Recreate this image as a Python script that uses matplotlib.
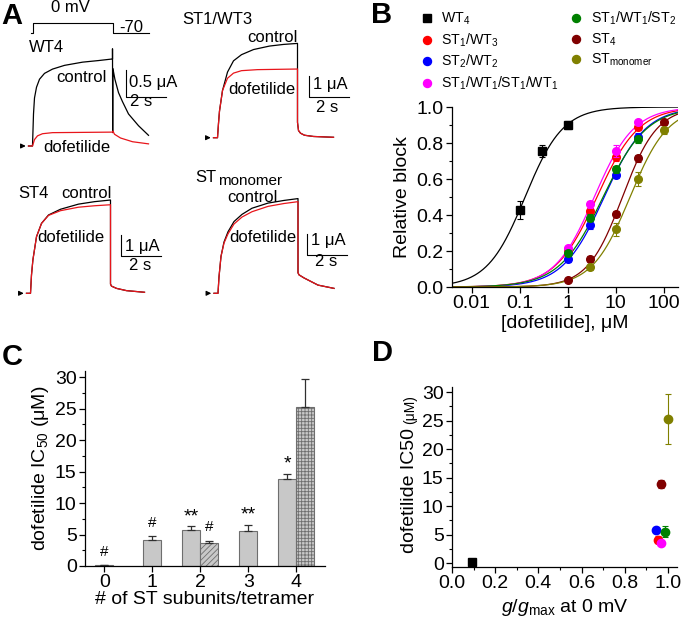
import numpy as np
import matplotlib
matplotlib.use("Agg")
import matplotlib.pyplot as plt
from matplotlib.ticker import MultipleLocator, LogLocator, NullFormatter

plt.rcParams['font.family'] = ['Liberation Sans', 'DejaVu Sans']
plt.rcParams['mathtext.fontset'] = 'custom'
plt.rcParams['mathtext.rm'] = 'Liberation Sans'
plt.rcParams['mathtext.it'] = 'Liberation Sans:italic'
plt.rcParams['mathtext.bf'] = 'Liberation Sans:bold'
plt.rcParams['hatch.linewidth'] = 0.6

# ---------------- data ----------------
# Panel A: current traces (time in s, current in uA)
t_prot = [-0.1, 0.03, 0.03, 4.0, 4.0, 5.8]
v_prot = [-70, -70, 0, 0, -70, -70]

t_wt4_ctrl = [-0.2, 0, 0.05, 0.1, 0.2, 0.35, 0.6, 1.0, 1.6, 2.5, 3.3, 4.0, 4.0, 4.01, 4.02,
              4.12, 4.3, 4.5, 4.8, 5.3, 5.8]
i_wt4_ctrl = [0, 0, 0.6, 0.9, 1.1, 1.25, 1.36, 1.44, 1.51, 1.57, 1.6, 1.63, 1.82, 0.25, 1.45,
              1.25, 1.0, 0.83, 0.6, 0.38, 0.2]
t_wt4_dof = [-0.2, 0, 0.1, 0.25, 0.5, 1.0, 4.0, 4.02, 4.1, 4.4, 5.0, 5.8]
i_wt4_dof = [0, 0, 0.12, 0.19, 0.23, 0.25, 0.26, 0.28, 0.22, 0.15, 0.08, 0.04]

t_st1_ctrl = [-0.2, 0, 0.05, 0.1, 0.25, 0.5, 0.8, 1.2, 1.8, 2.6, 3.3, 4.0, 4.0, 4.05, 4.15, 4.35, 4.8, 5.8]
i_st1_ctrl = [0, 0, 0.7, 1.3, 2.3, 3.2, 3.75, 4.05, 4.3, 4.47, 4.55, 4.6, 0.75, 0.35, 0.22, 0.12, 0.06, 0.02]
t_st1_dof = [-0.2, 0, 0.05, 0.1, 0.25, 0.5, 0.8, 1.2, 2.0, 4.0, 4.0, 4.05, 4.15, 4.35, 4.8, 5.8]
i_st1_dof = [0, 0, 0.7, 1.3, 2.3, 2.9, 3.15, 3.27, 3.32, 3.35, 0.75, 0.35, 0.22, 0.12, 0.06, 0.02]

t_st4 = [-0.2, 0, 0.05, 0.12, 0.3, 0.55, 0.9, 1.5, 2.4, 3.2, 4.0, 4.0, 4.05, 4.3, 4.8, 5.7]
i_st4_ctrl = [0, 0, 0.9, 1.63, 2.76, 3.41, 3.82, 4.1, 4.35, 4.47, 4.55, 0.45, 0.35, 0.24, 0.13, 0.05]
i_st4_dof = [0, 0, 0.9, 1.63, 2.76, 3.41, 3.8, 4.03, 4.2, 4.27, 4.32, 0.45, 0.35, 0.24, 0.13, 0.05]

t_mono = [-0.2, 0, 0.05, 0.15, 0.3, 0.5, 0.8, 1.2, 1.7, 2.5, 3.3, 4.0, 4.0, 4.05, 4.3, 5.0, 5.8]
i_mono_ctrl = [0, 0, 0.8, 1.8, 2.5, 3.0, 3.5, 3.85, 4.15, 4.4, 4.53, 4.62, 1.0, 0.9, 0.75, 0.4, 0.24]
i_mono_dof = [0, 0, 0.8, 1.8, 2.45, 2.9, 3.38, 3.72, 3.98, 4.24, 4.38, 4.47, 1.0, 0.9, 0.75, 0.4, 0.24]

# Panel B: concentration-response
names = ['WT$_4$', 'ST$_1$/WT$_3$', 'ST$_2$/WT$_2$', 'ST$_1$/WT$_1$/ST$_1$/WT$_1$',
         'ST$_1$/WT$_1$/ST$_2$', 'ST$_4$', 'ST$_{\\mathrm{monomer}}$']
colors = ['black', '#ff0000', '#0000ff', '#ff00ff', '#008000', '#800000', '#808000']
markers = ['s', 'o', 'o', 'o', 'o', 'o', 'o']

conc = [
    [0.1, 0.3, 1],
    [1, 3, 10, 30],
    [1, 3, 10, 30],
    [1, 3, 10, 30],
    [1, 3, 10, 30],
    [1, 3, 10, 30, 100],
    [3, 10, 30, 100],
]
block = [
    [0.43, 0.755, 0.90],
    [0.205, 0.42, 0.72, 0.89],
    [0.155, 0.345, 0.625, 0.835],
    [0.215, 0.46, 0.755, 0.915],
    [0.19, 0.385, 0.655, 0.82],
    [0.04, 0.155, 0.405, 0.715, 0.915],
    [0.11, 0.32, 0.60, 0.87],
]
block_sem = [
    [0.05, 0.035, 0.02],
    [0.015, 0.02, 0.02, 0.015],
    [0.015, 0.02, 0.02, 0.02],
    [0.015, 0.02, 0.035, 0.015],
    [0.015, 0.02, 0.02, 0.02],
    [0.01, 0.015, 0.015, 0.02, 0.015],
    [0.015, 0.035, 0.04, 0.02],
]
fit_ic50 = [0.13, 4.1, 5.8, 3.6, 5.5, 13.9, 20.0]
fit_hill = [1.1, 1.0, 1.0, 1.05, 0.95, 1.2, 1.1]

# Panel C: IC50 vs number of ST subunits
n_st = [0, 1, 2, 3, 4]
ic50_conc = [0.13, 4.1, 5.8, 5.5, 13.9]
ic50_conc_err = [0.05, 0.6, 0.5, 1.0, 0.8]
n_st_tandem = [2, 4]
ic50_tandem = [3.6, 25.3]
ic50_tandem_err = [0.45, 4.4]
sig_txt = ['#', '#', '**', '#', '**', '*']

# Panel D: IC50 vs g/gmax
g_gmax = [0.093, 0.954, 0.946, 0.969, 0.985, 0.969, 1.0]
ic50_all = [0.13, 4.1, 5.8, 3.6, 5.5, 13.9, 25.3]
ic50_all_err = [0.05, 0.6, 0.5, 0.45, 1.0, 0.7, 4.4]

# ---------------- figure ----------------
W, H = 690, 620
fig = plt.figure(figsize=(6.9, 6.2), dpi=100)


def px_rect(x0, y0, x1, y1):
    return [x0 / W, 1 - y1 / H, (x1 - x0) / W, (y1 - y0) / H]


def ftext(x, y, s, **kw):
    kw.setdefault('fontsize', 12)
    return fig.text(x / W, 1 - y / H, s, **kw)


def style_axes(ax):
    for s in ['top', 'right']:
        ax.spines[s].set_visible(False)
    for s in ['left', 'bottom']:
        ax.spines[s].set_linewidth(0.9)
    ax.tick_params(which='major', direction='out', length=4, width=0.9, labelsize=14, pad=2)
    ax.tick_params(which='minor', direction='out', length=2, width=0.8)


# ---- Panel A ----
def trace_axes(sx, by, pa, pxs=20.0):
    x0, x1 = sx - 25, sx + 145
    y0, y1 = by - 112, by + 12
    ax = fig.add_axes(px_rect(x0, y0, x1, y1))
    ax.set_xlim((x0 - sx) / pxs, (x1 - sx) / pxs)
    ax.set_ylim((by - y1) / pa, (by - y0) / pa)
    ax.axis('off')
    ax.annotate('', xy=(-0.2, 0), xytext=(-0.62, 0),
                arrowprops=dict(arrowstyle='-|>', color='black', lw=0.8, mutation_scale=7))
    return ax


def scale_bar(ax, t0, i0, di):
    ax.plot([t0, t0, t0 + 2], [i0 + di, i0, i0], color='black', lw=0.8, clip_on=False)


axp = fig.add_axes(px_rect(25, 12, 160, 42))
axp.set_xlim((25 - 32.5) / 20, (160 - 32.5) / 20)
axp.set_ylim(-70 - 9 * 7, 0 + 11 * 7)
axp.axis('off')
axp.plot(t_prot, v_prot, color='black', lw=0.8)
ftext(70, 7, '0 mV', ha='center', va='center')
ftext(131, 27, '-70', ha='center', va='center')

ax1 = trace_axes(32.5, 146, 53.4)
ax1.plot(t_wt4_ctrl, i_wt4_ctrl, color='black', lw=0.9)
ax1.plot(t_wt4_dof, i_wt4_dof, color='#e8151b', lw=0.9)
scale_bar(ax1, 4.675, 0.92, 0.5)
ftext(46, 47, 'WT4', ha='center', va='center')
ftext(81, 77, 'control', ha='center', va='center')
ftext(77, 147, 'dofetilide', ha='center', va='center')
ftext(129, 82, '0.5 μA', ha='left', va='center')
ftext(141, 102, '2 s', ha='center', va='center')

ax2 = trace_axes(217.5, 137.7, 20.5)
ax2.plot(t_st1_ctrl, i_st1_ctrl, color='black', lw=0.9)
ax2.plot(t_st1_dof, i_st1_dof, color='#e8151b', lw=0.9)
scale_bar(ax2, 4.575, 1.99, 1.0)
ftext(217, 20, 'ST1/WT3', ha='center', va='center')
ftext(272, 38, 'control', ha='center', va='center')
ftext(262, 90, 'dofetilide', ha='center', va='center')
ftext(313, 85, '1 μA', ha='left', va='center')
ftext(327, 107, '2 s', ha='center', va='center')

ax3 = trace_axes(30.5, 293.3, 20.5)
ax3.plot(t_st4, i_st4_ctrl, color='black', lw=0.9)
ax3.plot(t_st4, i_st4_dof, color='#e8151b', lw=0.9)
scale_bar(ax3, 4.51, 1.82, 1.0)
ftext(33, 193, 'ST4', ha='center', va='center')
ftext(86, 193, 'control', ha='center', va='center')
ftext(71, 237, 'dofetilide', ha='center', va='center')
ftext(125, 246, '1 μA', ha='left', va='center')
ftext(140, 266, '2 s', ha='center', va='center')

ax4 = trace_axes(218, 293.3, 20.5)
ax4.plot(t_mono, i_mono_ctrl, color='black', lw=0.9)
ax4.plot(t_mono, i_mono_dof, color='#e8151b', lw=0.9)
scale_bar(ax4, 4.43, 1.87, 1.0)
ftext(195, 178, 'ST', ha='left', va='center')
ftext(218, 181, 'monomer', ha='left', va='center', fontsize=11)
ftext(252, 198, 'control', ha='center', va='center')
ftext(263, 237, 'dofetilide', ha='center', va='center')
ftext(311, 241, '1 μA', ha='left', va='center')
ftext(326, 262, '2 s', ha='center', va='center')

# ---- Panel B ----
axB = fig.add_axes(px_rect(452, 107, 678, 287))
style_axes(axB)
axB.set_xscale('log')
xfit = np.logspace(np.log10(0.0039), np.log10(200), 400)
handles = []
for k in range(len(names)):
    axB.plot(xfit, xfit ** fit_hill[k] / (xfit ** fit_hill[k] + fit_ic50[k] ** fit_hill[k]),
             color=colors[k], lw=0.9)
for k in range(len(names)):
    axB.errorbar(conc[k], block[k], yerr=block_sem[k], fmt='none', ecolor=colors[k],
                 elinewidth=0.8, capsize=2.5, capthick=0.8)
    h, = axB.plot(conc[k], block[k], ls='none', marker=markers[k], color=colors[k],
                  ms=5.5, label=names[k])
    handles.append(h)
axB.set_xlim(0.0039, 200)
axB.set_ylim(0, 1.0)
axB.set_xticks([0.01, 0.1, 1, 10, 100])
axB.set_xticklabels(['0.01', '0.1', '1', '10', '100'])
axB.xaxis.set_minor_locator(LogLocator(base=10, subs=np.arange(2, 10)))
axB.xaxis.set_minor_formatter(NullFormatter())
axB.yaxis.set_major_locator(MultipleLocator(0.2))
axB.yaxis.set_minor_locator(MultipleLocator(0.1))
axB.yaxis.set_major_formatter(plt.FuncFormatter(lambda v, p: f'{v:.1f}'))
axB.set_ylabel('Relative block', fontsize=14, labelpad=4)
axB.set_xlabel('[dofetilide], μM', fontsize=14, labelpad=2)
fig.legend(handles=handles, labels=names, ncol=2, loc='upper left',
           bbox_to_anchor=(421 / W, 1 - 10 / H), frameon=False, fontsize=10.2,
           handlelength=0.8, handletextpad=0.6, columnspacing=0.9, labelspacing=0.29,
           borderaxespad=0, borderpad=0, markerscale=1.05)

# ---- Panel C ----
axC = fig.add_axes(px_rect(85, 371, 325, 566))
style_axes(axC)
off_conc = [0, 0, -0.19, 0, -0.19]
off_tandem = [0.19, 0.19]
pos_conc = [n + o for n, o in zip(n_st, off_conc)]
pos_tandem = [n + o for n, o in zip(n_st_tandem, off_tandem)]
axC.bar(pos_conc, ic50_conc, width=0.38, color='#c8c8c8', edgecolor='#6e6e6e', lw=0.8)
bt = axC.bar(pos_tandem, ic50_tandem, width=0.38, color='#c8c8c8', edgecolor='#6e6e6e', lw=0.8)
bt[0].set_hatch('//////')
bt[1].set_hatch('+++++')
axC.errorbar(pos_conc, ic50_conc, yerr=[np.zeros(len(n_st)), ic50_conc_err], fmt='none',
             ecolor='#303030', elinewidth=0.9, capsize=3, capthick=0.9)
axC.errorbar(pos_tandem, ic50_tandem, yerr=[np.zeros(2), ic50_tandem_err], fmt='none',
             ecolor='#303030', elinewidth=0.9, capsize=3, capthick=0.9)
sig_pos = [pos_conc[0], pos_conc[1], pos_conc[2], pos_tandem[0], pos_conc[3], pos_conc[4]]
sig_base = [ic50_conc[0] + ic50_conc_err[0], ic50_conc[1] + ic50_conc_err[1],
            ic50_conc[2] + ic50_conc_err[2], ic50_tandem[0] + ic50_tandem_err[0],
            ic50_conc[3] + ic50_conc_err[3], ic50_conc[4] + ic50_conc_err[4]]
for xp, yb, s in zip(sig_pos, sig_base, sig_txt):
    if s == '#':
        axC.text(xp, yb + 1.0, s, ha='center', va='bottom', fontsize=11)
    else:
        axC.text(xp, yb + 0.2, s, ha='center', va='bottom', fontsize=14)
axC.set_xlim(-0.4, 4.6)
axC.set_ylim(0, 31)
axC.set_xticks(n_st)
axC.yaxis.set_major_locator(MultipleLocator(5))
axC.yaxis.set_minor_locator(MultipleLocator(2.5))
axC.set_ylabel('dofetilide IC$_{50}$ (μM)', fontsize=14, labelpad=3)
axC.set_xlabel('# of ST subunits/tetramer', fontsize=14, labelpad=0)

# ---- Panel D ----
axD = fig.add_axes(px_rect(452, 387, 677, 567))
style_axes(axD)
for k in range(len(names)):
    axD.errorbar(g_gmax[k], ic50_all[k], yerr=ic50_all_err[k], fmt=markers[k], color=colors[k],
                 ms=6, elinewidth=0.8, capsize=2.5, capthick=0.8)
axD.set_xlim(0, 1.042)
axD.set_ylim(-0.7, 30.9)
axD.xaxis.set_major_locator(MultipleLocator(0.2))
axD.xaxis.set_minor_locator(MultipleLocator(0.1))
axD.xaxis.set_major_formatter(plt.FuncFormatter(lambda v, p: f'{v:.1f}'))
axD.yaxis.set_major_locator(MultipleLocator(5))
axD.yaxis.set_minor_locator(MultipleLocator(2.5))
axD.set_xlabel('$\\mathit{g}/\\mathit{g}_{\\mathrm{max}}$ at 0 mV', fontsize=14, labelpad=3)
t1 = ftext(410, 553, 'dofetilide IC50', fontsize=14, rotation=90, rotation_mode='anchor',
           ha='left', va='center')
fig.canvas.draw()
bb = t1.get_window_extent()
fig.text(410 / W, (bb.y1 + 4) / H, '(μM)', fontsize=10, rotation=90, rotation_mode='anchor',
         ha='left', va='center')

# panel letters
for x, y, s in [(12, 16, 'A'), (382, 15, 'B'), (12, 357, 'C'), (383, 353, 'D')]:
    ftext(x, y, s, fontsize=21, fontweight='bold', ha='center', va='center')

fig.savefig('out.png', dpi=100)
